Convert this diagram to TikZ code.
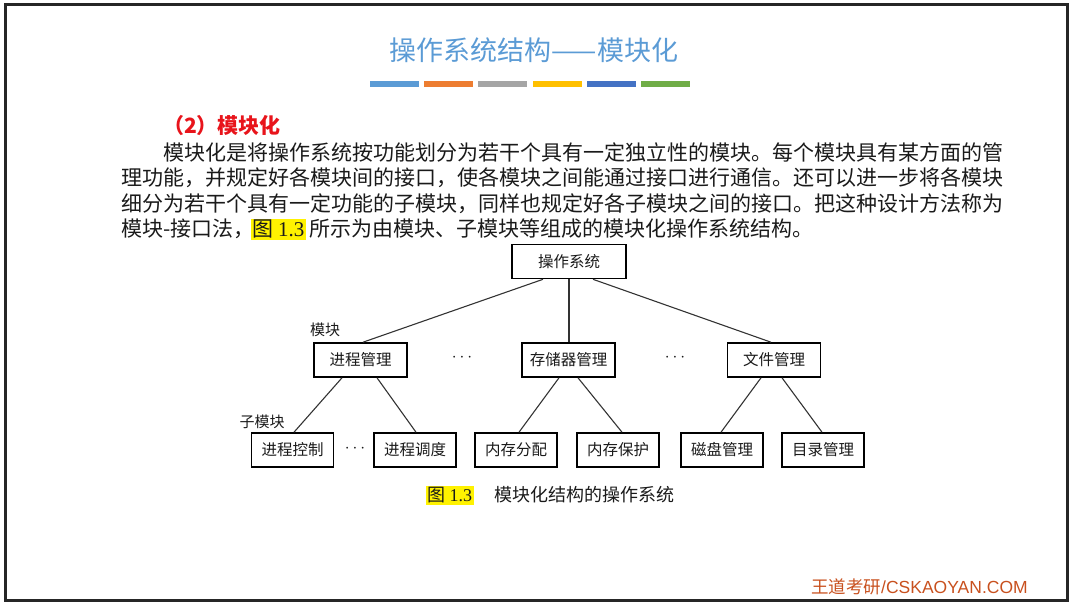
\documentclass[tikz,border=0pt]{standalone}
\usepackage{fontspec}
\setmainfont{Noto Sans CJK SC}
\newfontfamily\latinfont{Liberation Serif}
\newfontfamily\webfont{Liberation Sans}
\usepackage{xcolor}
\definecolor{titleblue}{HTML}{5B9BD5}
\definecolor{headred}{HTML}{E8141B}
\definecolor{ink}{HTML}{1A1A1A}
\definecolor{footorange}{HTML}{C8501E}
\definecolor{barblue}{HTML}{5B9BD5}
\definecolor{barorange}{HTML}{ED7D31}
\definecolor{bargray}{HTML}{A5A5A5}
\definecolor{baryellow}{HTML}{FFC000}
\definecolor{bardeep}{HTML}{4472C4}
\definecolor{bargreen}{HTML}{70AD47}
\usetikzlibrary{calc}

\begin{document}
\begin{tikzpicture}[
		x=1pt, y=-1pt,
		bodytxt/.style={
			anchor=base west,
			inner sep=0pt,
			text=ink,
			font=\fontsize{21}{25}\selectfont
		},
		hilite/.style={
			anchor=base west,
			fill=yellow,
			inner xsep=1.5pt,
			inner ysep=0pt
		},
		modbox/.style={
			draw=black,
			line width=1.6pt,
			fill=white,
			inner sep=0pt,
			minimum height=34pt,
			text=ink,
			font=\fontsize{15.5}{18}\selectfont
		},
		subbox/.style={
			modbox,
			minimum width=82pt
		},
		tag/.style={
			text=ink,
			inner sep=0pt,
			font=\fontsize{15}{18}\selectfont
		},
		dotsgap/.style={
			text=ink,
			inner sep=0pt,
			font=\fontsize{18}{20}\selectfont
		},
		link/.style={
			draw=black!80,
			line width=1.1pt
		}
	]
	\useasboundingbox (0,0) rectangle (1073,603);
	
	% Slide frame
	\draw[line width=3pt, draw=black!85] (5.5,4) rectangle (1067.5,600.5);
	
	% Title and colour bars
	\node[font=\fontsize{27}{31}\selectfont, text=titleblue] (title) at (534,50) {操作系统结构——模块化};
	\foreach \c [count=\i from 0] in {barblue,barorange,bargray,baryellow,bardeep,bargreen}
		\fill[\c] (370+\i*54.2,81) rectangle ++(49,6);
	
	% Paragraph
	\node[bodytxt, text=headred, font=\fontsize{21}{25}\selectfont\bfseries] (head) at (163,133) {（2）模块化};
	\node[bodytxt] (l1) at (163,160) {模块化是将操作系统按功能划分为若干个具有一定独立性的模块。每个模块具有某方面的管};
	\node[bodytxt] (l2) at (121,185) {理功能，并规定好各模块间的接口，使各模块之间能通过接口进行通信。还可以进一步将各模块};
	\node[bodytxt] (l3) at (121,211) {细分为若干个具有一定功能的子模块，同样也规定好各子模块之间的接口。把这种设计方法称为};
	\node[bodytxt] (l4a) at (121,236) {模块-接口法，};
	\node[hilite, text height=17pt, text depth=4pt, text=ink, font=\fontsize{21}{25}\selectfont] (l4b) at ($(l4a.base east)+(-4,0)$) {图 {\latinfont 1.3}};
	\node[bodytxt] (l4c) at ($(l4b.base east)+(3,0)$) {所示为由模块、子模块等组成的模块化操作系统结构。};
	
	% Tree of modules
	\node[modbox, minimum width=114pt] (os) at (569,261.5) {操作系统};
	
	\node[modbox, minimum width=93pt] (proc) at (360.5,360) {进程管理};
	\node[modbox, minimum width=93pt] (mem) at (568.5,360) {存储器管理};
	\node[modbox, minimum width=93pt] (file) at (774,360) {文件管理};
	\node[dotsgap] (dots1) at (462,358) {$\cdots$};
	\node[dotsgap] (dots2) at (675,358) {$\cdots$};
	\node[tag] (lvl1) at (325,330) {模块};
	
	\node[subbox] (pctl) at (292.5,450) {进程控制};
	\node[subbox] (psch) at (415,450) {进程调度};
	\node[subbox] (malloc) at (516,450) {内存分配};
	\node[subbox] (mprot) at (618,450) {内存保护};
	\node[subbox] (disk) at (722,450) {磁盘管理};
	\node[subbox] (dir) at (823,450) {目录管理};
	\node[dotsgap] (dots3) at (355,449) {$\cdots$};
	\node[tag] (lvl2) at (262,422) {子模块};
	
	% Links root -> modules
	\draw[link] ($(os.south)+(-26,0)$) -- ($(proc.north)+(2.5,0)$);
	\draw[link] (os.south) -- (mem.north -| os.south);
	\draw[link] ($(os.south)+(24,0)$) -- ($(file.north)+(-3,0)$);
	
	% Links modules -> submodules
	\draw[link] ($(proc.south)+(-18.5,0)$) -- ($(pctl.north)+(1.5,0)$);
	\draw[link] ($(proc.south)+(16.5,0)$) -- ($(psch.north)+(1,0)$);
	\draw[link] ($(mem.south)+(-9.5,0)$) -- ($(malloc.north)+(3,0)$);
	\draw[link] ($(mem.south)+(9.5,0)$) -- ($(mprot.north)+(4,0)$);
	\draw[link] ($(file.south)+(-13,0)$) -- ($(disk.north)+(-1,0)$);
	\draw[link] ($(file.south)+(8,0)$) -- ($(dir.north)+(-1,0)$);
	
	% Caption
	\node[hilite, text height=15pt, text depth=4pt, text=ink, font=\fontsize{18}{22}\selectfont] (capfig) at (426,501) {图 {\latinfont 1.3}};
	\node[bodytxt, font=\fontsize{18}{22}\selectfont] (captxt) at (494,501) {模块化结构的操作系统};
	
	% Footer
	\node[bodytxt, text=footorange, font=\fontsize{17.5}{20}\selectfont] (foot) at (811,593) {王道考研{\webfont /CSKAOYAN.COM}};
\end{tikzpicture}
\end{document}
